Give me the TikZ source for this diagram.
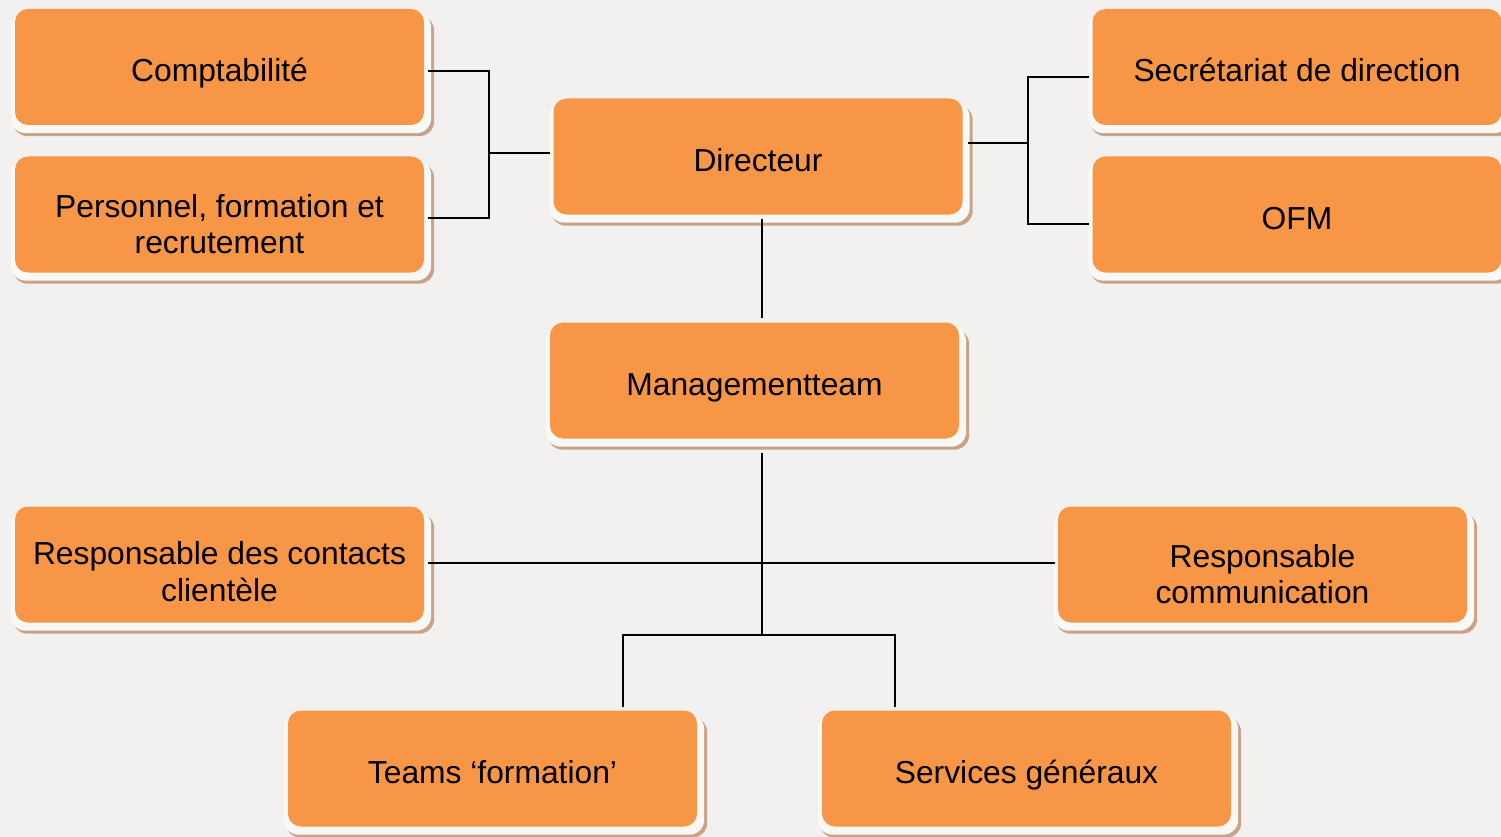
\documentclass[tikz,border=0pt]{standalone}
\usepackage{fontspec}
\setmainfont{Liberation Sans}
\usetikzlibrary{calc,backgrounds}
\definecolor{pagebg}{HTML}{F2F1F0}
\definecolor{orgfill}{HTML}{F79646}
\definecolor{rimc}{HTML}{F8F8F7}
\definecolor{shadowc}{HTML}{C9A387}
\tikzset{
  orgbox/.style={fill=orgfill, rounded corners=13pt, minimum width=409pt, minimum height=116pt,
    inner sep=0pt, text=black, font=\fontsize{31.8}{36.5}\selectfont},
  conn/.style={draw=black, line width=1.3pt}
}
% one line, baseline 15pt below the centre
\newcommand\one[1]{\raisebox{-15pt}[0pt][0pt]{#1}}
% two lines, first baseline #1 below the centre
\newcommand\two[3]{\raisebox{-#1}[0pt][0pt]{\begin{tabular}[t]{@{}c@{}}#2\\#3\end{tabular}}}
\newcommand\boxback[1]{%
  \begin{pgfonlayer}{background}
    \fill[shadowc, rounded corners=15pt] ($(#1.north west)+(-2,7)$) rectangle ($(#1.south east)+(10,11)$);
    \fill[rimc, rounded corners=15pt] ($(#1.north west)+(-4,4)$) rectangle ($(#1.south east)+(7,8)$);
  \end{pgfonlayer}}
\begin{document}
\begin{tikzpicture}[x=1pt,y=-1pt]
\begin{pgfonlayer}{background}
  \fill[pagebg] (0,0) rectangle (1501,837);
\end{pgfonlayer}
\useasboundingbox (0,0) rectangle (1501,837);

\node[orgbox] (comp)  at (219.5,67)    {\one{Comptabilité}};
\node[orgbox] (pers)  at (219.5,214.5) {\two{2.5pt}{Personnel, formation et}{recrutement}};
\node[orgbox] (dir)   at (758,156.5)   {\one{Directeur}};
\node[orgbox] (sec)   at (1297,67)     {\one{Secrétariat de direction}};
\node[orgbox] (ofm)   at (1297,214.5)  {\one{OFM}};
\node[orgbox] (mgmt)  at (754.5,380.5) {\one{Managementteam}};
\node[orgbox] (resp)  at (219.5,564.5) {\two{0pt}{Responsable des contacts}{clientèle}};
\node[orgbox] (comm)  at (1262.5,564.5){\two{2.5pt}{Responsable}{communication}};
\node[orgbox] (teams) at (492.5,768.5) {\one{Teams ‘formation’}};
\node[orgbox] (serv)  at (1026.5,768.5){\one{Services généraux}};

\foreach \n in {comp,pers,dir,sec,ofm,mgmt,resp,comm,teams,serv} {\boxback{\n}}

\coordinate (jl) at (489,153);
\coordinate (jr) at (1028,143);
\coordinate (jb) at (762,635);

\draw[conn] ($(comp.east)+(4,4)$) -| (jl) |- ($(pers.east)+(4,3.5)$);
\draw[conn] (jl) -- ($(dir.west)+(-3,-3.5)$);
\draw[conn] ($(dir.east)+(5,-13.5)$) -- (jr);
\draw[conn] ($(sec.west)+(-3,10)$) -| (jr) |- ($(ofm.west)+(-3,9.5)$);
\draw[conn] ($(dir.south)+(4,4)$) -- ($(mgmt.north)+(7.5,-4)$);
\draw[conn] ($(mgmt.south)+(7.5,14)$) -- (jb);
\draw[conn] ($(resp.east)+(4,-1.5)$) -- ($(comm.west)+(-3,-1.5)$);
\draw[conn] ($(teams.north)+(130.5,-3)$) |- (jb) -| ($(serv.north)+(-131.5,-3)$);
\end{tikzpicture}
\end{document}
